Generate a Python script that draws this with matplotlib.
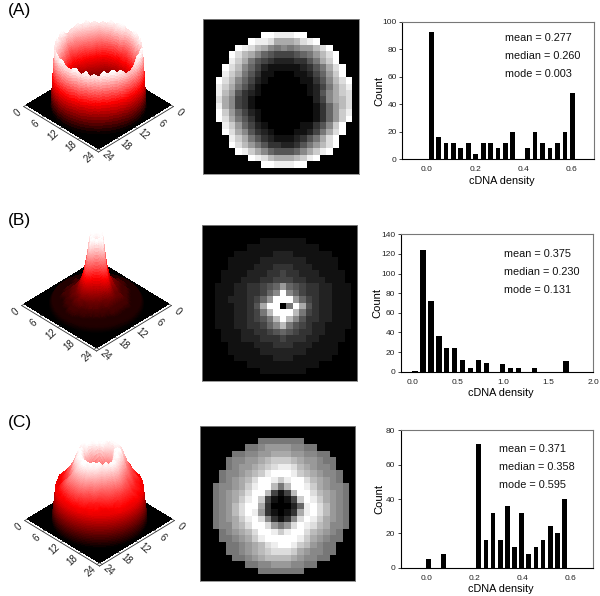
import numpy as np
import matplotlib
matplotlib.use("Agg")
import matplotlib.pyplot as plt
from matplotlib.colors import LinearSegmentedColormap
from mpl_toolkits.mplot3d import proj3d

plt.rcParams['font.family'] = ['Liberation Sans', 'DejaVu Sans']

W, H = 600, 596

# grey levels (hex digit, 0-f), rows 2..22 of a 24x24 grid,
# each row centred on column 12
rows_a = ["ffeeeff", "feedaaabdef", "fedba8787899bdf", "fdba8654445679bdf", "eca75432223357acf",
          "fdb8642111112357adf", "eca75311000112469cf",
          "fdb864210000011358bdf", "eca753100000001247ace", "eb9532100000001258acd",
          "da8431000000000248abd", "ea84310000000001369bd", "fc96421000000001369ce",
          "fda7531000000001369cf", "ec964210000011358cf", "fda8532100011247adf",
          "eca75321112357adf", "fdb97533223579bdf", "feca8655568acef",
          "fedbaaabcef", "ffeeeff"]
rows_b = ["1111111", "11111111111", "111111222111111", "11111222222211111", "11112223332221111",
          "1111222334332221111", "1112223344433222111", "111223345696543322111", "1112233468f8643322111",
          "112223469fff964322111", "1112235aff07fa5322111",
          "11122347bfffb74322111", "111223457bfb853322111", "1112233468b7543221111",
          "1112233456543322111", "1112223334333221111", "11112223332221111", "11111222222211111",
          "111111222111111", "11111111111", "1111111"]
rows_c = ["7777777", "77899998877", "778899aaa998877", "78899abcccba99877", "7899abcdeedba9887",
          "7889abcefffecba9887", "789abdffeceffdba987", "7889aceffb7bffeca9887", "789abdffb414bffdba987",
          "789acefc41014cfeca987", "789bdffa300026efdb987", "789bdfe931013aefdb987", "789acefd83138dfeca987",
          "788abdffd979dfedba887", "789abdffeceffdba987", "7789acefffffeca9877",
          "7789abdeffecb9877", "7789abcdddca98877", "7789abbbba98877", "77889998877", "7777777"]

# histogram bins
hist_a_x = [0.019, 0.050, 0.080, 0.110, 0.141, 0.172, 0.203, 0.234, 0.264, 0.295, 0.326, 0.356,
            0.418, 0.448, 0.480, 0.510, 0.541, 0.572, 0.603]
hist_a_y = [93, 16, 12, 12, 8, 12, 4, 12, 12, 8, 12, 20, 8, 20, 12, 8, 12, 20, 48]
hist_b_x = [0.026, 0.114, 0.203, 0.291, 0.376, 0.465, 0.554, 0.642, 0.731, 0.819, 0.993, 1.081, 1.170, 1.347, 1.697]
hist_b_y = [1, 124, 72, 36, 24, 24, 12, 4, 12, 9, 8, 4, 4, 4, 11]
hist_c_x = [0.008, 0.070, 0.218, 0.248, 0.278, 0.308, 0.337, 0.367, 0.398, 0.427, 0.458, 0.487, 0.518, 0.547, 0.578]
hist_c_y = [5, 8, 72, 16, 32, 16, 36, 12, 32, 8, 12, 16, 24, 20, 40]

stats_a = ["mean = 0.277", "median = 0.260", "mode = 0.003"]
stats_b = ["mean = 0.375", "median = 0.230", "mode = 0.131"]
stats_c = ["mean = 0.371", "median = 0.358", "mode = 0.595"]

axis_ticks = [0, 6, 12, 18, 24]

red_map = LinearSegmentedColormap.from_list("blackredwhite", ["black", "#ff0000", "white"])


def px_axes(fig, left, top, right, bottom, **kw):
    return fig.add_axes([left / W, 1 - bottom / H, (right - left) / W, (bottom - top) / H], **kw)


def make_grid(rows):
    grid = np.zeros((24, 24))
    for i, row in enumerate(rows):
        n = len(row)
        grid[i + 2, 12 - n // 2:12 - n // 2 + n] = [int(c, 16) for c in row]
    return grid


def fill_outside(grid, rows):
    # carry the rim values outward so the wall of the 3D surface comes out round
    out = grid.copy()
    known = np.zeros(grid.shape, dtype=bool)
    for i, row in enumerate(rows):
        n = len(row)
        known[i + 2, 12 - n // 2:12 - n // 2 + n] = True
    for _ in range(4):
        new = out.copy()
        new_known = known.copy()
        for r in range(24):
            for c in range(24):
                if known[r, c]:
                    continue
                rr = range(max(r - 1, 0), min(r + 2, 24))
                cc = range(max(c - 1, 0), min(c + 2, 24))
                vals = [out[i, j] for i in rr for j in cc if known[i, j]]
                if vals:
                    new[r, c] = np.mean(vals)
                    new_known[r, c] = True
        out, known = new, new_known
    return out


def sample(grid, x, y):
    # bilinear lookup, x = row, y = column
    x0 = np.clip(np.floor(x).astype(int), 0, 22)
    y0 = np.clip(np.floor(y).astype(int), 0, 22)
    fx = x - x0
    fy = y - y0
    return (grid[x0, y0] * (1 - fx) * (1 - fy) + grid[x0 + 1, y0] * fx * (1 - fy)
            + grid[x0, y0 + 1] * (1 - fx) * fy + grid[x0 + 1, y0 + 1] * fx * fy)


def draw_surface(fig, grid, rows, cx, cy, height):
    s = 300
    ax = px_axes(fig, cx - s / 2, cy - s / 2, cx + s / 2, cy + s / 2, projection='3d', computed_zorder=False,
                 proj_type='ortho')
    ax.set_facecolor('none')
    # black base plate
    bx, by = np.meshgrid([0, 24], [0, 24], indexing='ij')
    ax.plot_surface(bx, by, np.zeros((2, 2)), color='black', shade=False, linewidth=0, antialiased=False)
    # polar mesh, dense at the wall
    r_in, r_out = 10.3, 11.2
    radii = np.concatenate([np.arange(0, r_in, 0.14), np.linspace(r_in, r_out, 22)])
    theta = np.linspace(0, 2 * np.pi, 241)
    R, T = np.meshgrid(radii, theta, indexing='ij')
    X = 12 + R * np.cos(T)
    Y = 12 + R * np.sin(T)
    filled = fill_outside(grid, rows)
    Z = sample(filled, X, Y) / 15.0
    Z = Z * np.clip((r_out - R) / (r_out - r_in), 0, 1)
    ax.plot_surface(X, Y, Z, cmap=red_map, vmin=0, vmax=1, rstride=1, cstride=1, linewidth=0,
                    antialiased=False, shade=False)
    aspect = np.array([24, 24, height * 2])
    ax.set_box_aspect(aspect, zoom=np.linalg.norm(aspect) / 24 * 0.33)
    ax.set_xlim(0, 24)
    ax.set_ylim(0, 24)
    ax.set_zlim(-1, 1)
    ax.view_init(elev=37.4, azim=45)
    ax.set_axis_off()
    # frame along the two front edges
    off = 0.9
    ax.plot([0, 24 + off], [24 + off, 24 + off], [0, 0], color='#333333', lw=0.6)
    ax.plot([24 + off, 24 + off], [0, 24 + off], [0, 0], color='#333333', lw=0.6)
    for t in axis_ticks:
        ax.plot([24, 24 + off], [t, t], [0, 0], color='#333333', lw=0.5)
        ax.plot([t, t], [24, 24 + off], [0, 0], color='#333333', lw=0.5)
    return ax


def label_surface(fig, ax):
    # tick labels go in figure pixels, next to the projected edge positions
    M = ax.get_proj()
    for t in axis_ticks:
        for (ex, ey, dx, dy, rot) in ((24, t, -9, -8, 42), (t, 24, 9, -8, -42)):
            px, py, _ = proj3d.proj_transform(ex, ey, 0, M)
            dpx, dpy = ax.transData.transform((px, py))
            fig.text((dpx + dx) / W, (dpy + dy) / H, str(t), fontsize=7, rotation=rot, ha='center', va='center',
                     color='#222222')


def draw_image(fig, grid, left, top, right, bottom):
    ax = px_axes(fig, left, top, right, bottom)
    ax.imshow(grid, cmap='gray', vmin=0, vmax=15, interpolation='nearest', aspect='auto')
    ax.set_xticks([])
    ax.set_yticks([])
    for sp in ax.spines.values():
        sp.set_color('#888888')
        sp.set_linewidth(0.6)


def draw_hist(fig, box, bx, by, width, xlim, ylim, xticks, yticks, stats, stats_pos, label_x):
    left, top, right, bottom = box
    ax = px_axes(fig, left, top, right, bottom)
    ax.bar(bx, by, width=width, color='black')
    ax.set_xlim(*xlim)
    ax.set_ylim(*ylim)
    ax.set_xticks(xticks)
    ax.set_xticklabels(["%.1f" % t for t in xticks])
    ax.set_yticks(yticks)
    ax.tick_params(axis='both', labelsize=6, length=2, width=0.6, pad=2, colors='#222222')
    ax.tick_params(axis='x', length=0, pad=5)
    for name in ('top', 'right'):
        ax.spines[name].set_color('#777777')
    for sp in ax.spines.values():
        sp.set_linewidth(0.8)
    fig.text(((left + right) / 2 + 4) / W, 1 - (bottom + 21.5) / H, "cDNA density", fontsize=7.8, ha='center', va='center')
    fig.text(label_x / W, 1 - ((top + bottom) / 2) / H, "Count", fontsize=8, rotation=90, ha='center', va='center')
    for s, (x, y) in zip(stats, stats_pos):
        fig.text(x / W, 1 - y / H, s, fontsize=7.8, ha='left', va='center', color='#111111')


fig = plt.figure(figsize=(W / 100, H / 100), dpi=100)

grid_a = make_grid(rows_a)
grid_b = make_grid(rows_b)
grid_c = make_grid(rows_c)

surf_b = grid_b.copy()
surf_b[12, 12] = 13  # the 3D panel only shows a shallow dent here
surf_b[12, 13] = 15

ax3d = [draw_surface(fig, grid_a, rows_a, 94.5, 109, 17.5),
        draw_surface(fig, surf_b, rows_b, 92.5, 308, 20),
        draw_surface(fig, grid_c, rows_c, 95.5, 523, 20)]

draw_image(fig, grid_a, 203.3, 19.3, 358.7, 174.3)
draw_image(fig, grid_b, 201.7, 225, 357.3, 380.7)
draw_image(fig, grid_c, 199.7, 425.7, 355, 581)

draw_hist(fig, (402.3, 22, 594, 159.3), hist_a_x, hist_a_y, 0.0195, (-0.101, 0.692), (0, 100),
          [0, 0.2, 0.4, 0.6], [0, 20, 40, 60, 80, 100], stats_a,
          [(505, 37.7), (505, 55.7), (505, 74)], 379)
draw_hist(fig, (401, 234.3, 593.3, 371.7), hist_b_x, hist_b_y, 0.058, (-0.13, 2.0), (0, 140),
          [0, 0.5, 1.0, 1.5, 2.0], [0, 20, 40, 60, 80, 100, 120, 140], stats_b,
          [(503.7, 254), (503.7, 272), (503.7, 290)], 377)
draw_hist(fig, (401, 430.3, 592.7, 567.7), hist_c_x, hist_c_y, 0.0195, (-0.1076, 0.695), (0, 80),
          [0, 0.2, 0.4, 0.6], [0, 20, 40, 60, 80], stats_c,
          [(498.7, 449), (498.7, 467), (498.7, 485)], 379)

fig.text(8 / W, 1 - 11 / H, "(A)", fontsize=12.5, ha='left', va='center')
fig.text(8 / W, 1 - 221 / H, "(B)", fontsize=12.5, ha='left', va='center')
fig.text(8 / W, 1 - 423 / H, "(C)", fontsize=12.5, ha='left', va='center')

fig.canvas.draw()
for a in ax3d:
    label_surface(fig, a)

fig.savefig("out.png", dpi=100)
